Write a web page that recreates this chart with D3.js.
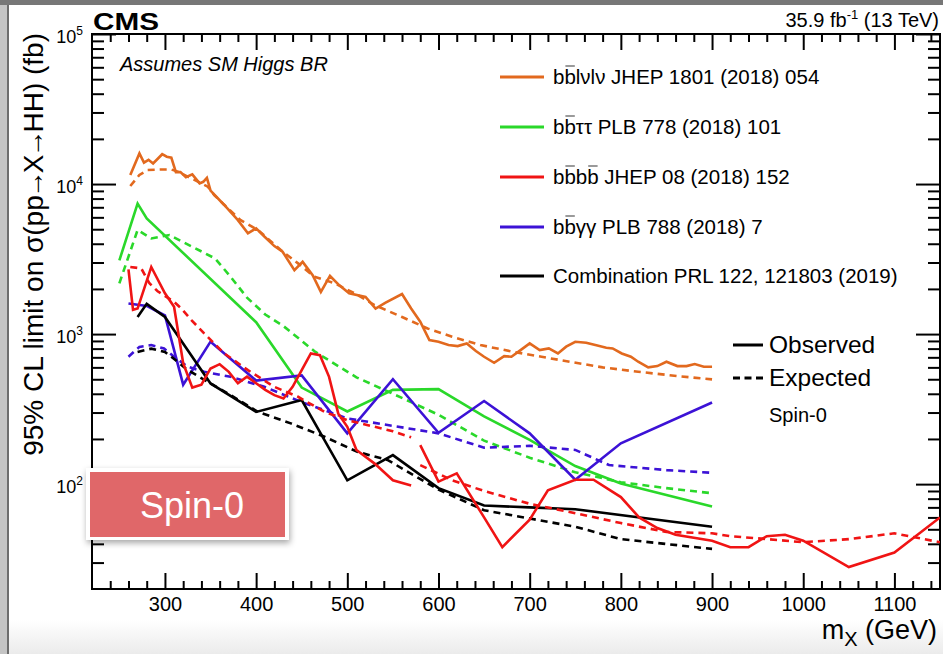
<!DOCTYPE html>
<html>
<head>
<meta charset="utf-8">
<script src="https://cdn.jsdelivr.net/npm/d3@7"></script>
<style>
  body { margin: 0; background: #fff; }
  text { font-family: 'Liberation Sans', Arial, Helvetica, sans-serif; fill: #000; }
</style>
</head>
<body>
<svg id="chart" width="943" height="654"></svg>
<script>
// values: [mX (GeV), limit (fb)]
const orangeObs = [[262,11500],[272,16000],[277,13900],[282,14500],[287,13700],[297,15800],[302,15200],[307,15000],[312,12000],[317,12000],[323,11100],[330,11600],[338,10100],[342,10350],[346,11000],[350,9030],[365,7250],[380,5750],[391,4690],[400,5070],[409,4470],[420,3860],[429,3540],[442,2670],[451,3030],[462,2470],[471,1910],[481,2440],[491,2120],[502,1870],[520,1770],[531,1480],[542,1620],[560,1850],[570,1480],[580,1210],[590,912],[600,889],[611,845],[621,832],[631,866],[641,771],[650,706],[661,644],[672,713],[680,706],[690,782],[700,866],[711,782],[721,802],[731,743],[740,824],[750,889],[762,875],[772,845],[784,811],[791,802],[801,743],[811,706],[819,654],[830,600],[840,612],[850,654],[862,612],[872,612],[881,631],[891,606],[900,606]]
const orangeExp = [[262,9700],[272,11500],[281,12400],[296,12500],[307,12500],[314,12100],[325,11200],[336,10400],[347,9600],[354,8450],[369,6890],[383,5750],[402,4940],[427,3630],[446,2960],[464,2410],[486,2180],[508,1870],[530,1560],[560,1300],[588,1090],[615,960],[646,845],[682,762],[713,706],[744,654],[780,600],[819,561],[862,525],[900,499]]

const greenObs = [[250,3100],[270,7400],[280,5900],[400,1200],[450,440],[500,305],[550,425],[600,430],[650,283],[700,197],[750,132],[800,101],[900,71]]
const greenExp = [[250,2180],[270,4940],[285,4340],[305,4570],[330,3820],[355,3190],[372,2410],[390,1750],[410,1350],[430,1130],[465,760],[510,515],[550,400],[600,290],[650,195],[700,150],[750,120],[800,103],[850,94],[900,87]]

const redObsLow = [[260,2700],[265,1450],[270,1480],[285,2800],[300,1870],[310,1520],[320,640],[330,440],[340,460],[350,590],[360,630],[370,560],[380,470],[390,520],[400,470],[410,425],[420,392],[430,372],[440,445],[450,575],[460,743],[470,724],[480,519],[490,296],[500,241],[510,169],[530,137],[550,106],[570,98]]
const redExpLow = [[262,2800],[274,2740],[283,2180],[292,1930],[310,1640],[318,1480],[329,1240],[343,1010],[365,743],[391,575],[420,445],[446,382],[475,303],[500,267],[530,241],[550,225],[570,205]]
const redObsHigh = [[580,182],[600,104],[620,118],[650,60],[670,38],[700,58],[720,91],[750,107],[770,107],[800,82],[820,60],[840,51],[860,46],[900,42],[920,38],[940,38],[960,45],[980,46],[1000,42],[1050,28],[1100,35],[1150,60]]
const redExpHigh = [[580,134],[615,106],[650,90],[700,74],[750,64],[800,55],[850,48],[900,47],[920,45],[960,43],[1000,41],[1050,43],[1100,47],[1150,41]]

const blueObs = [[260,1600],[280,1540],[300,1330],[320,460],[350,890],[400,490],[450,530],[500,218],[550,500],[600,220],[650,358],[700,218],[750,107],[800,187],[900,350]]
const blueExp = [[260,706],[272,822],[285,845],[299,802],[310,706],[325,606],[343,561],[372,519],[409,445],[449,354],[500,274],[540,250],[600,218],[650,175],[700,180],[750,169],[787,134],[850,124],[900,119]]

const blackObs = [[270,1300],[280,1590],[300,1300],[350,469],[400,303],[450,363],[500,106],[550,156],[600,94],[650,72],[700,70],[750,68],[900,52]]
const blackExp = [[270,760],[285,800],[300,760],[307,706],[325,575],[347,481],[372,392],[402,303],[438,254],[475,207],[511,164],[544,145],[600,92],[650,67],[700,59],[750,52],[800,43],[900,37]]

const xMajor = [300, 400, 500, 600, 700, 800, 900, 1000, 1100]
const yMajor = [1e2, 1e3, 1e4, 1e5]
const legendNames = ['bblνlν JHEP 1801 (2018) 054', 'bbττ PLB 778 (2018) 101', 'bbbb JHEP 08 (2018) 152', 'bbγγ PLB 788 (2018) 7', 'Combination PRL 122, 121803 (2019)']
const legendBars = [[1], [1], [1, 3], [1], []]
const colors = ['#e2691e', '#2ad82a', '#f01414', '#3c12d6', '#000000']

const svg = d3.select('#chart')
const pLeft = 92, pRight = 940, pTop = 34, pBottom = 589

const x = d3.scaleLinear().domain([220, 1150]).range([pLeft, pRight])
const y = d3.scaleLog().domain([20, 1e5]).range([pBottom, pTop])

// page frame like the slide it was cut from
const defs = svg.append('defs')
const g1 = defs.append('linearGradient').attr('id', 'fade').attr('x1', 0).attr('y1', 0).attr('x2', 0).attr('y2', 1)
g1.append('stop').attr('offset', 0).attr('stop-color', '#ffffff')
g1.append('stop').attr('offset', 1).attr('stop-color', '#ebebeb')
const sh = defs.append('filter').attr('id', 'shadow').attr('x', -0.1).attr('y', -0.2).attr('width', 1.3).attr('height', 1.5)
sh.append('feDropShadow').attr('dx', 1).attr('dy', 3).attr('stdDeviation', 3).attr('flood-color', '#000').attr('flood-opacity', 0.35)
defs.append('clipPath').attr('id', 'plot').append('rect')
  .attr('x', pLeft).attr('y', pTop).attr('width', pRight - pLeft).attr('height', pBottom - pTop)

svg.append('rect').attr('width', 943).attr('height', 654).attr('fill', '#fff')
svg.append('rect').attr('x', 0).attr('y', 620).attr('width', 943).attr('height', 34).attr('fill', 'url(#fade)')
svg.append('rect').attr('x', 0).attr('y', 0).attr('width', 9).attr('height', 654).attr('fill', '#c4c4c4')
svg.append('line').attr('x1', 8).attr('x2', 8).attr('y1', 0).attr('y2', 654).attr('stroke', '#6d6d6d').attr('stroke-width', 2)
svg.append('rect').attr('x', 0).attr('y', 0).attr('width', 943).attr('height', 5).attr('fill', '#777')

// axes with inward ticks
const xMinor = d3.range(240, 1150, 20).filter((d) => d % 100 !== 0)
const yMinor = []
;[10, 100, 1000, 10000].forEach((p) => {
  for (let k = 2; k <= 9; k++) if (k * p > 20 && k * p < 1e5) yMinor.push(k * p)
})

function drawAxis(axis, tr) {
  const g = svg.append('g').attr('transform', tr).call(axis)
  g.select('.domain').remove()
  g.selectAll('.tick line').attr('stroke', '#000').attr('stroke-width', 2)
  return g
}

drawAxis(d3.axisBottom(x).tickValues(xMinor).tickSize(-8).tickFormat(''), `translate(0,${pBottom})`)
drawAxis(d3.axisTop(x).tickValues(xMinor).tickSize(-8).tickFormat(''), `translate(0,${pTop})`)
drawAxis(d3.axisTop(x).tickValues(xMajor).tickSize(-16).tickFormat(''), `translate(0,${pTop})`)
const xa = drawAxis(d3.axisBottom(x).tickValues(xMajor).tickSize(-16).tickPadding(0).tickFormat((d) => d), `translate(0,${pBottom})`)
xa.selectAll('.tick text').attr('y', 22).attr('dy', 0).attr('font-size', 20)
  .style('font-family', "'Liberation Sans', Arial, sans-serif").attr('fill', '#000')

drawAxis(d3.axisLeft(y).tickValues(yMinor).tickSize(-12).tickFormat(''), `translate(${pLeft},0)`)
drawAxis(d3.axisRight(y).tickValues(yMinor).tickSize(-12).tickFormat(''), `translate(${pRight},0)`)
drawAxis(d3.axisRight(y).tickValues(yMajor).tickSize(-24).tickFormat(''), `translate(${pRight},0)`)
const ya = drawAxis(d3.axisLeft(y).tickValues(yMajor).tickSize(-24).tickFormat(''), `translate(${pLeft},0)`)
ya.selectAll('.tick').append('text')
  .attr('x', -9).attr('y', 8).attr('text-anchor', 'end').attr('font-size', 18)
  .each(function (d) {
    const t = d3.select(this)
    t.append('tspan').text('10')
    t.append('tspan').attr('font-size', 12).attr('dy', -8).text(Math.round(Math.log10(d)))
  })

svg.append('rect').attr('x', pLeft).attr('y', pTop).attr('width', pRight - pLeft).attr('height', pBottom - pTop)
  .attr('fill', 'none').attr('stroke', '#000').attr('stroke-width', 2)

// curves
const line = d3.line().x((d) => x(d[0])).y((d) => y(d[1]))
const plot = svg.append('g').attr('clip-path', 'url(#plot)')
const series = [
  [orangeExp, 0, true], [orangeObs, 0, false],
  [greenExp, 1, true], [greenObs, 1, false],
  [blueExp, 3, true], [blueObs, 3, false],
  [blackExp, 4, true], [blackObs, 4, false],
  [redExpLow, 2, true], [redObsLow, 2, false],
  [redExpHigh, 2, true], [redObsHigh, 2, false],
]
series.forEach(([data, c, dashed]) => {
  plot.append('path').datum(data).attr('d', line)
    .attr('fill', 'none').attr('stroke', colors[c]).attr('stroke-width', 2.6)
    .attr('stroke-linejoin', 'miter')
    .attr('stroke-dasharray', dashed ? '7,5' : null)
})

// texts
svg.append('text').attr('x', 93).attr('y', 30).attr('font-size', 24).attr('font-weight', 'bold')
  .attr('textLength', 66).attr('lengthAdjust', 'spacingAndGlyphs').text('CMS')
const lumi = svg.append('text').attr('x', 939).attr('y', 27).attr('text-anchor', 'end').attr('font-size', 20)
lumi.append('tspan').text('35.9 fb')
lumi.append('tspan').attr('font-size', 13).attr('dy', -8).text('-1')
lumi.append('tspan').attr('dy', 8).text(' (13 TeV)')
svg.append('text').attr('x', 120).attr('y', 71).attr('font-size', 20).attr('font-style', 'italic')
  .text('Assumes SM Higgs BR')

const yt = svg.append('text').attr('transform', 'translate(43,33) rotate(-90)').attr('text-anchor', 'end')
  .attr('font-size', 28)
yt.append('tspan').text('95% CL limit on σ(pp')
yt.append('tspan').attr('dx', -3).text('→')
yt.append('tspan').attr('dx', -3).text('X')
yt.append('tspan').attr('dx', -3).text('→')
yt.append('tspan').attr('dx', -3).text('HH) (fb)')
const xt = svg.append('text').attr('x', 937).attr('y', 639).attr('text-anchor', 'end').attr('font-size', 27)
xt.append('tspan').text('m')
xt.append('tspan').attr('font-size', 20).attr('dy', 7).text('X')
xt.append('tspan').attr('dy', -7).text(' (GeV)')

// legend
const legY = [77, 127, 177, 227, 276]
legendNames.forEach((name, i) => {
  svg.append('line').attr('x1', 500).attr('x2', 544).attr('y1', legY[i]).attr('y2', legY[i])
    .attr('stroke', colors[i]).attr('stroke-width', 3)
  const t = svg.append('text').attr('x', 553).attr('y', legY[i] + 7).attr('font-size', 20.5).text(name)
  legendBars[i].forEach((k) => {
    const node = t.node()
    const s = node.getStartPositionOfChar(k)
    const e = node.getEndPositionOfChar(k)
    svg.append('line').attr('x1', s.x + 1).attr('x2', e.x - 1).attr('y1', s.y - 18).attr('y2', s.y - 18)
      .attr('stroke', '#9a9a9a').attr('stroke-width', 2)
  })
})

svg.append('line').attr('x1', 733).attr('x2', 763).attr('y1', 345).attr('y2', 345).attr('stroke', '#000').attr('stroke-width', 3)
svg.append('text').attr('x', 769).attr('y', 353).attr('font-size', 24.5).text('Observed')
svg.append('line').attr('x1', 733).attr('x2', 763).attr('y1', 378).attr('y2', 378).attr('stroke', '#000').attr('stroke-width', 3)
  .attr('stroke-dasharray', '7,4.5')
svg.append('text').attr('x', 769).attr('y', 386).attr('font-size', 24.5).text('Expected')
svg.append('text').attr('x', 769).attr('y', 422).attr('font-size', 20).text('Spin-0')

// Spin-0 badge
svg.append('rect').attr('x', 86).attr('y', 468).attr('width', 203).attr('height', 72)
  .attr('fill', '#fff').attr('filter', 'url(#shadow)')
svg.append('rect').attr('x', 90).attr('y', 472).attr('width', 195).attr('height', 65).attr('fill', '#e06769')
svg.append('text').attr('x', 192).attr('y', 518).attr('text-anchor', 'middle').attr('font-size', 36)
  .style('fill', '#fff').text('Spin-0')
</script>
</body>
</html>
